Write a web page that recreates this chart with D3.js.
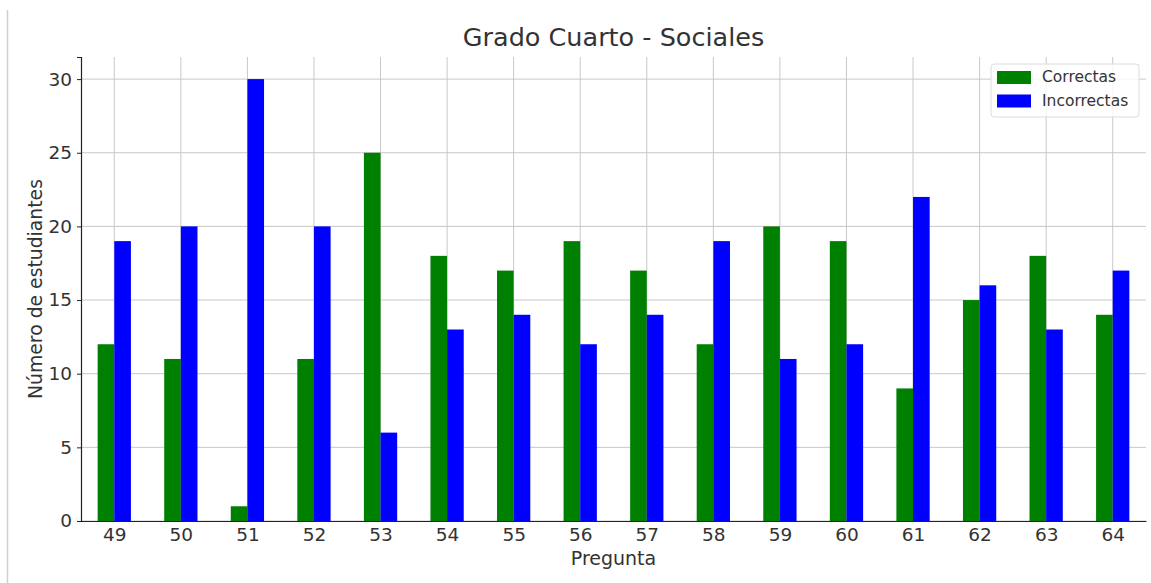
<!DOCTYPE html>
<html>
<head>
<meta charset="utf-8">
<script src="https://cdn.jsdelivr.net/npm/d3@7"></script>
<style>
  body { margin: 0; background: #fff; }
  svg { display: block; font-family: "DejaVu Sans", sans-serif; }
</style>
</head>
<body>
<svg id="chart" width="1151" height="583"></svg>
<script>
// Data
var preguntas = ['49', '50', '51', '52', '53', '54', '55', '56', '57', '58', '59', '60', '61', '62', '63', '64'];
var correctas = [12, 11, 1, 11, 25, 18, 17, 19, 17, 12, 20, 19, 9, 15, 18, 14];
var incorrectas = [19, 20, 30, 20, 6, 13, 14, 12, 14, 19, 11, 12, 22, 16, 13, 17];
var yTicks = [0, 5, 10, 15, 20, 25, 30];
var seriesNames = ['Correctas', 'Incorrectas'];
var seriesColors = ['green', 'blue'];

var margin = {left: 81, right: 5, top: 57, bottom: 62};
var width = 1151, height = 583;

var svg = d3.select('#chart');

// thin border at the left of the image
svg.append('line')
    .attr('x1', 7.5).attr('x2', 7.5)
    .attr('y1', 10).attr('y2', height)
    .attr('stroke', '#d0d0d0').attr('stroke-width', 1.5);

// pandas-style index positions: -0.5 .. n-0.5
var x = d3.scaleLinear()
    .domain([-0.5, preguntas.length - 0.5])
    .range([margin.left, width - margin.right]);
var y = d3.scaleLinear()
    .domain([0, 31.5])
    .range([height - margin.bottom, margin.top]);

var barW = 0.25;

/*
** Grid
 */
var grid = svg.append('g');
grid.selectAll('.vgrid').data(preguntas).enter().append('line')
    .attr('x1', function (d, i) { return x(i); })
    .attr('x2', function (d, i) { return x(i); })
    .attr('y1', y(0)).attr('y2', y(31.5))
    .attr('stroke', '#c8c8c8').attr('stroke-width', 1);
grid.selectAll('.hgrid').data(yTicks).enter().append('line')
    .attr('x1', x(-0.5)).attr('x2', x(preguntas.length - 0.5))
    .attr('y1', function (d) { return y(d); })
    .attr('y2', function (d) { return y(d); })
    .attr('stroke', '#c8c8c8').attr('stroke-width', 1);

/*
** Bars
 */
var series = [correctas, incorrectas];
series.forEach(function (vals, s) {
    svg.append('g').selectAll('rect').data(vals).enter().append('rect')
        .attr('x', function (d, i) { return x(i - barW + s * barW); })
        .attr('width', x(barW) - x(0))
        .attr('y', function (d) { return y(d); })
        .attr('height', function (d) { return y(0) - y(d); })
        .attr('fill', seriesColors[s]);
});

/*
** Axes
 */
var xAxis = d3.axisBottom(x)
    .tickValues(d3.range(preguntas.length))
    .tickFormat(function (d) { return preguntas[d]; })
    .tickSize(0).tickPadding(7);
var gx = svg.append('g')
    .attr('transform', 'translate(0,' + y(0) + ')')
    .call(xAxis);
gx.select('.domain').attr('stroke', '#222').attr('stroke-width', 1.2);
gx.selectAll('text').attr('font-size', 18.5).attr('fill', '#333')
    .attr('font-family', '"DejaVu Sans", sans-serif');

var yAxis = d3.axisLeft(y).tickValues(yTicks).tickSize(4).tickPadding(5);
var gy = svg.append('g')
    .attr('transform', 'translate(' + x(-0.5) + ',0)')
    .call(yAxis);
gy.select('.domain').attr('stroke', '#222').attr('stroke-width', 1.2);
gy.selectAll('.tick line').attr('stroke', '#222');
gy.selectAll('text').attr('font-size', 18.5).attr('fill', '#333')
    .attr('font-family', '"DejaVu Sans", sans-serif');

/*
** Titles
 */
var cx = (x(-0.5) + x(preguntas.length - 0.5)) / 2;
svg.append('text')
    .attr('x', cx).attr('y', 46)
    .attr('text-anchor', 'middle')
    .attr('font-size', 25.5).attr('fill', '#333')
    .text('Grado Cuarto - Sociales');
svg.append('text')
    .attr('x', cx).attr('y', 565)
    .attr('text-anchor', 'middle')
    .attr('font-size', 19).attr('fill', '#333')
    .text('Pregunta');
svg.append('text')
    .attr('transform', 'translate(42,' + (y(15.75)) + ') rotate(-90)')
    .attr('text-anchor', 'middle')
    .attr('font-size', 18.8).attr('fill', '#333')
    .text('Número de estudiantes');

/*
** Legend
 */
var legend = svg.append('g').attr('transform', 'translate(991,64)');
legend.append('rect')
    .attr('width', 148).attr('height', 53).attr('rx', 3)
    .attr('fill', 'rgba(255,255,255,0.8)')
    .attr('stroke', '#dcdcdc');
seriesNames.forEach(function (name, i) {
    legend.append('rect')
        .attr('x', 6).attr('y', 7 + i * 23.5)
        .attr('width', 34).attr('height', 13)
        .attr('fill', seriesColors[i]);
    legend.append('text')
        .attr('x', 51).attr('y', 18 + i * 24)
        .attr('font-size', 15.5).attr('fill', '#333')
        .text(name);
});
</script>
</body>
</html>
